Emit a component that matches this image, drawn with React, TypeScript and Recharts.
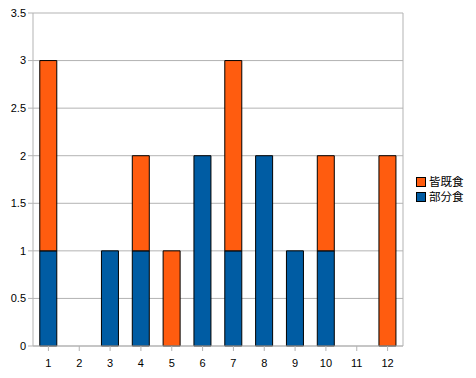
import React from 'react';
import { BarChart, Bar, XAxis, YAxis, CartesianGrid, Legend } from 'recharts';

const categories = ['1','2','3','4','5','6','7','8','9','10','11','12'];
const partial = [1, 0, 1, 1, 0, 2, 1, 2, 1, 1, 0, 0];
const total = [2, 0, 0, 1, 1, 0, 2, 0, 0, 1, 0, 2];
const yTicks = [0, 0.5, 1, 1.5, 2, 2.5, 3, 3.5];

const data = categories.map((c, i) => ({ name: c, partial: partial[i], total: total[i] }));

const ORANGE = '#ff5c0f';
const BLUE = '#005ca3';

const LegendContent = () => (
  <div style={{ fontFamily: '"Noto Sans CJK JP", sans-serif', fontSize: 11.5, color: '#000' }}>
    {[{ c: ORANGE, t: '皆既食' }, { c: BLUE, t: '部分食' }].map((it) => (
      <div key={it.t} style={{ display: 'flex', alignItems: 'center', height: 15, lineHeight: '15px' }}>
        <span style={{ display: 'inline-block', width: 8, height: 8, background: it.c, border: '1px solid #000', marginRight: 3 }} />
        <span>{it.t}</span>
      </div>
    ))}
  </div>
);

export default function App() {
  return (
    <div style={{ position: 'fixed', left: 0, top: 0, background: '#fff' }}>
      <BarChart width={476} height={378} data={data} margin={{ top: 13, right: 13, left: 0, bottom: 0 }} barCategoryGap="22%">
        <CartesianGrid stroke="#b3b3b3" vertical={true} verticalPoints={[403]} horizontal={true} />
        <XAxis dataKey="name" height={32} stroke="#b3b3b3" tickLine={{ stroke: '#b3b3b3' }} tickSize={5}
          tick={{ fill: '#000', fontSize: 11, fontFamily: 'Liberation Sans, Arial, sans-serif', dy: 6 }} interval={0} />
        <YAxis width={33} domain={[0, 3.5]} ticks={yTicks} stroke="#b3b3b3" tickSize={5}
          tick={{ fill: '#000', fontSize: 11, fontFamily: 'Liberation Sans, Arial, sans-serif' }} interval={0} />
        <Legend layout="vertical" align="right" verticalAlign="top" content={<LegendContent />}
          wrapperStyle={{ left: 416, top: 174, width: 60, height: 30 }} />
        <Bar dataKey="partial" stackId="a" fill={BLUE} stroke="#000" strokeWidth={1} isAnimationActive={false} />
        <Bar dataKey="total" stackId="a" fill={ORANGE} stroke="#000" strokeWidth={1} isAnimationActive={false} />
      </BarChart>
    </div>
  );
}
